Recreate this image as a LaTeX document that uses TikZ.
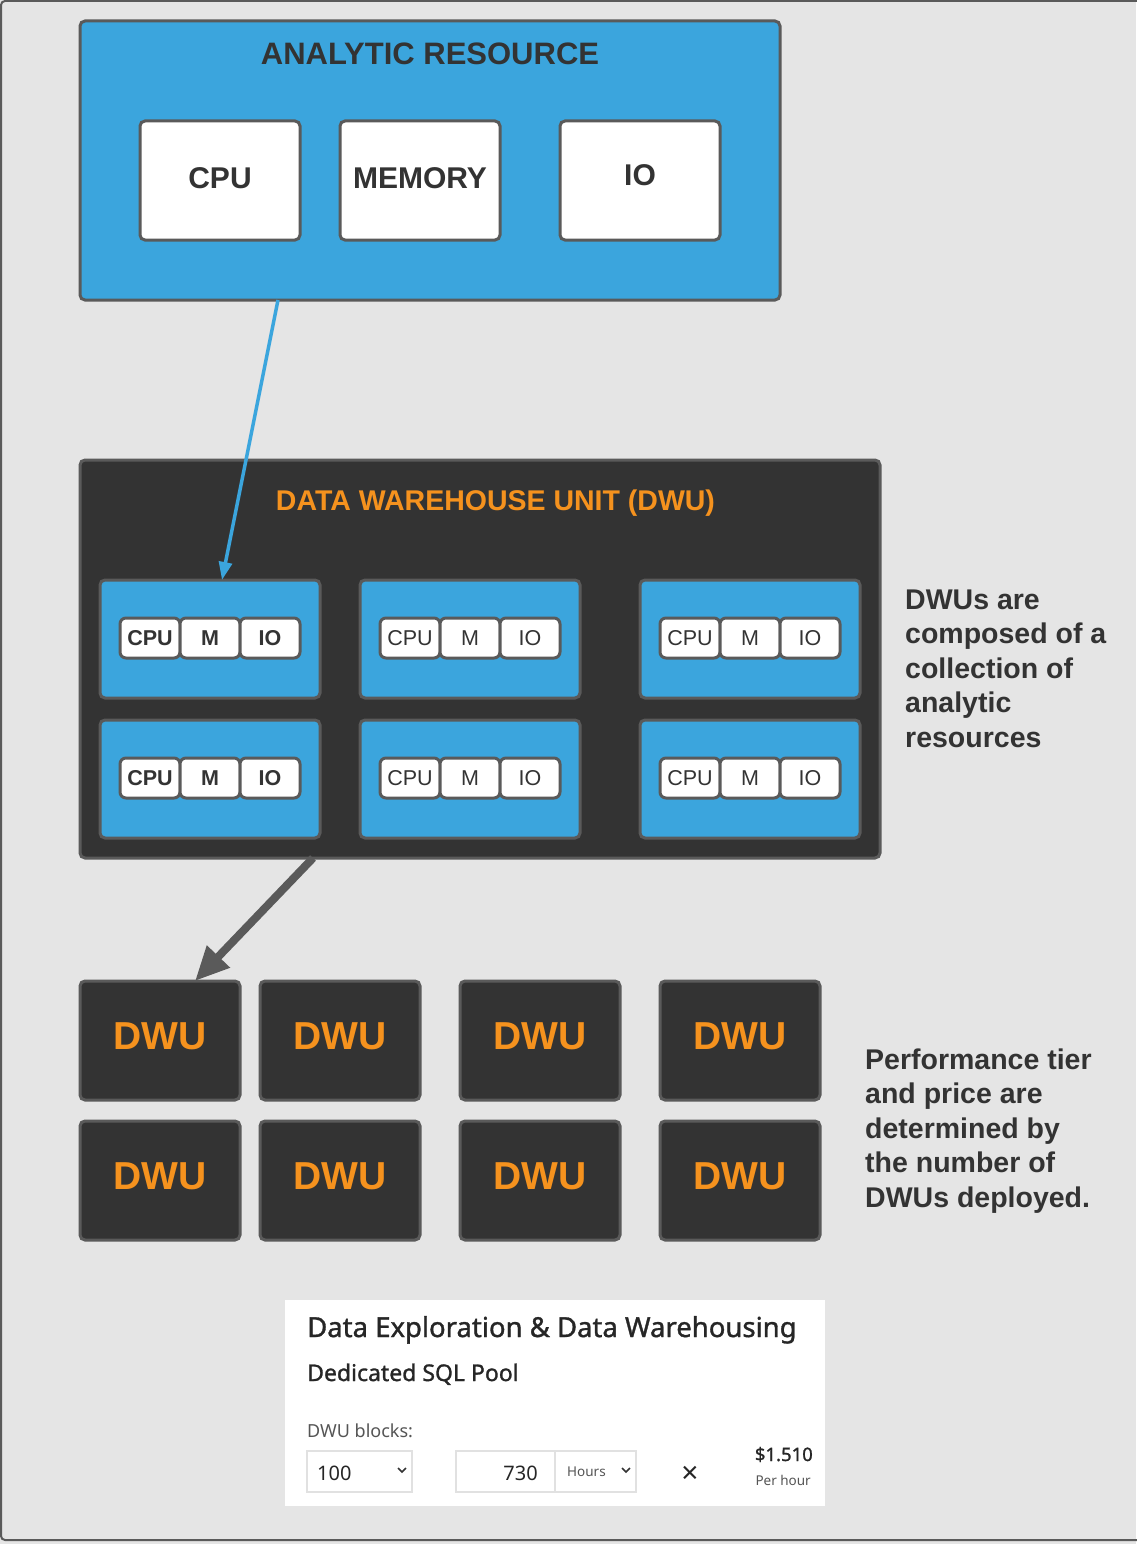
\documentclass[tikz,border=0pt]{standalone}
\usepackage{fontspec}
\setmainfont{Liberation Sans}
\newfontfamily\uifont{Noto Sans}
\newfontfamily\uisemi[FakeBold=1.2]{Noto Sans}
\usetikzlibrary{arrows.meta,positioning}

\definecolor{azblue}{HTML}{3BA5DD}
\definecolor{panel}{HTML}{333333}
\definecolor{edge}{HTML}{5A5A5A}
\definecolor{dwuorange}{HTML}{F5921E}
\definecolor{canvas}{HTML}{E5E5E5}
\definecolor{ink}{HTML}{333333}
\definecolor{fieldline}{HTML}{E1E1E1}
\definecolor{uigray}{HTML}{555555}

\begin{document}
\begin{tikzpicture}[x=1pt,y=-1pt,
  box/.style={draw=edge, line width=3pt, rounded corners=5pt, inner sep=0pt, outer sep=0pt},
  bigres/.style={box, fill=white, minimum width=160pt, minimum height=119pt, text=ink,
    text height=21.5pt, text depth=5pt, font=\bfseries\fontsize{30}{30}\selectfont},
  unit/.style={box, fill=azblue, minimum width=220pt, minimum height=118pt},
  pill/.style={box, rounded corners=6pt, fill=white, minimum width=60pt, minimum height=40pt,
    text=ink, font=\fontsize{21.5}{21.5}\selectfont},
  tile/.style={box, fill=panel, minimum width=160pt, minimum height=119pt, text=dwuorange,
    text height=28pt, text depth=10pt, font=\bfseries\fontsize{39}{39}\selectfont},
  note/.style={anchor=base west, align=left, inner sep=0pt, text=ink,
    font=\bfseries\fontsize{28.5}{34.5}\selectfont},
  field/.style={draw=fieldline, line width=1.5pt, fill=white, inner sep=0pt, outer sep=0pt,
    minimum height=41pt},
  ui/.style={inner sep=0pt, text=black!85},
]
  \useasboundingbox (0,0) rectangle (1136,1544);
  \fill[canvas] (0,0) rectangle (1136,1544);
  \draw[edge, line width=2pt, rounded corners=4pt] (1,1) rectangle (1150,1540);

  % Analytic resource
  \node[box, fill=azblue, minimum width=700pt, minimum height=279pt] (ar) at (430,160.5) {};
  \node[text=ink, font=\bfseries\fontsize{31}{31}\selectfont, anchor=base] (ar-title) at (430,65) {ANALYTIC RESOURCE};
  \node[bigres] (ar-cpu) at (220,180.5) {CPU};
  \node[bigres] (ar-mem) at (420,180.5) {MEMORY};
  \node[bigres, text depth=11pt] (ar-io) at (640,180.5) {IO};

  % Data warehouse unit
  \node[box, fill=panel, minimum width=800pt, minimum height=398pt] (dwu) at (480,659) {};
  \node[text=dwuorange, font=\bfseries\fontsize{28.5}{28.5}\selectfont, anchor=base] (dwu-title) at (495.5,510) {DATA WAREHOUSE UNIT (DWU)};
  \foreach \r/\uy in {1/639,2/779}{
    \foreach \c/\ux/\wt in {1/210/\bfseries,2/470/\mdseries,3/750/\mdseries}{
      \node[unit] (u-\r-\c) at (\ux,\uy) {};
      \node[pill] (cpu-\r-\c) at (\ux-60,\uy-1) {\wt CPU};
      \node[pill, right=0pt of cpu-\r-\c] (m-\r-\c) {\wt M};
      \node[pill, right=0pt of m-\r-\c] (io-\r-\c) {\wt IO};
    }
  }
  \draw[-{Triangle[length=18pt,width=13pt]}, azblue, line width=3.5pt]
    ([xshift=-152pt]ar.south) -- ([xshift=12pt]u-1-1.north);
  \node[note] (note-dwu) at (905,747) {DWUs are\\composed of a\\collection of\\analytic\\resources};

  % Deployed DWUs
  \foreach \r/\ty in {1/1040.5,2/1180.5}{
    \foreach \c/\tx in {1/160,2/340,3/540,4/740}{
      \node[tile] (t-\r-\c) at (\tx,\ty) {DWU};
    }
  }
  \draw[-{Triangle[length=34pt,width=30pt]}, edge, line width=8pt]
    ([xshift=-167pt]dwu.south) -- ([xshift=35pt]t-1-1.north);
  \node[note] (note-tier) at (865,1207) {Performance tier\\and price are\\determined by\\the number of\\DWUs deployed.};

  % Pricing card
  \node[fill=white, inner sep=0pt, outer sep=0pt, minimum width=540pt, minimum height=206pt] (card) at (555,1403) {};
  \node[ui, anchor=base west, font=\uisemi\fontsize{27.5}{27.5}\selectfont] (card-title) at (307,1337) {Data Exploration \& Data Warehousing};
  \node[ui, anchor=base west, font=\uisemi\fontsize{23}{23}\selectfont] (card-sub) at (307,1381) {Dedicated SQL Pool};
  \node[ui, anchor=base west, text=uigray, font=\uifont\fontsize{18}{18}\selectfont] (card-lbl) at (307,1437) {DWU blocks:};
  \node[field, minimum width=105pt] (f-dwu) at (359.5,1471.5) {};
  \node[field, minimum width=99pt] (f-num) at (505.5,1471.5) {};
  \node[field, minimum width=81pt] (f-unit) at (595.5,1471.5) {};
  \node[ui, right=10pt of f-dwu.west, yshift=-2pt, font=\uifont\fontsize{20}{20}\selectfont] (v-dwu) {100};
  \node[ui, left=17pt of f-num.east, yshift=-2pt, font=\uifont\fontsize{20}{20}\selectfont] (v-num) {730};
  \node[ui, right=12pt of f-unit.west, text=uigray, font=\uifont\fontsize{13.5}{13.5}\selectfont] (v-unit) {Hours};
  \draw[line width=1.6pt, black!80] (398,1468) -- (402,1472) -- (406,1468);
  \draw[line width=1.6pt, black!80] (622,1468) -- (626,1472) -- (630,1468);
  \node[ui, font=\uifont\bfseries\fontsize{30}{30}\selectfont] (times) at (690,1475) {×};
  \node[ui, anchor=base east, font=\uisemi\fontsize{18.5}{18.5}\selectfont] (price) at (813,1461) {\$1.510};
  \node[ui, anchor=base east, text=uigray, font=\uifont\fontsize{13.5}{13.5}\selectfont] (per) at (811,1485) {Per hour};
\end{tikzpicture}
\end{document}
